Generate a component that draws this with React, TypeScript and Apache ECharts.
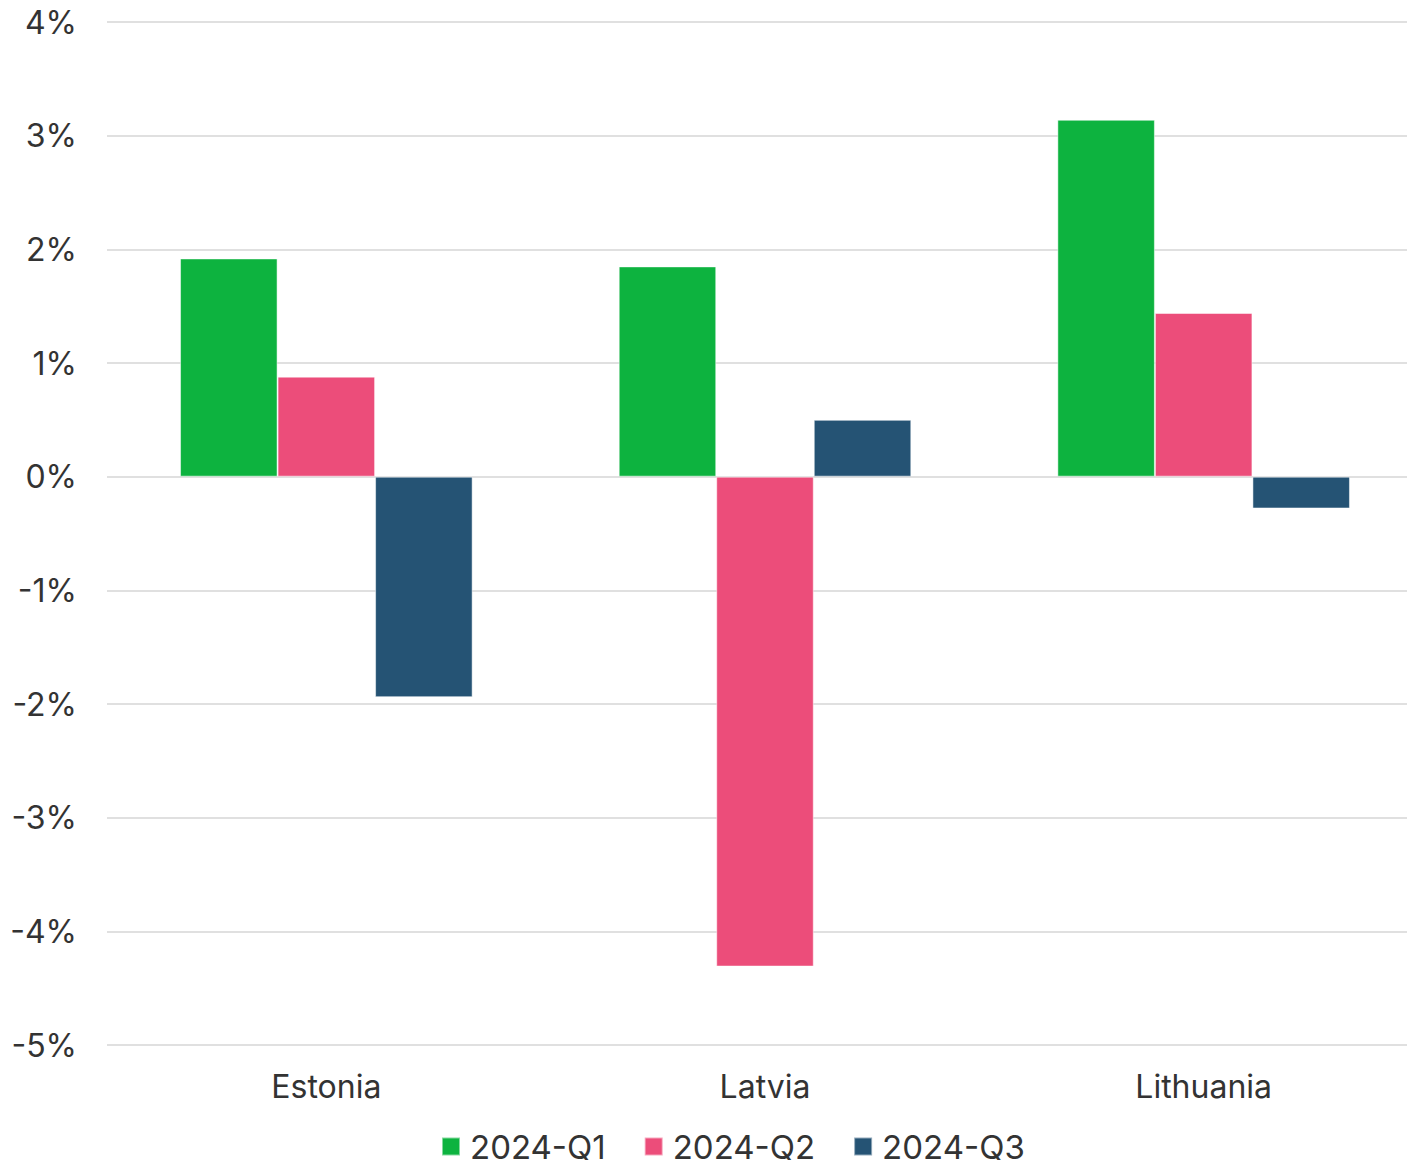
import React, { useEffect, useRef } from "react";
import * as echarts from "echarts";

const countries = ["Estonia", "Latvia", "Lithuania"];
const quarters = ["2024-Q1", "2024-Q2", "2024-Q3"];
const q1Values = [1.92, 1.85, 3.14];
const q2Values = [0.88, -4.31, 1.44];
const q3Values = [-1.94, 0.5, -0.28];
const seriesColors = ["#0db33f", "#ec4d7a", "#255374"];

const FONT = "Inter, 'Noto Sans', sans-serif";

export default function App() {
  const ref = useRef<HTMLDivElement>(null);

  useEffect(() => {
    if (!ref.current) return;
    const chart = echarts.init(ref.current, undefined, { renderer: "svg" });
    const values = [q1Values, q2Values, q3Values];
    chart.setOption({
      animation: false,
      textStyle: { fontFamily: FONT },
      grid: { left: 107, top: 22, right: 0, height: 1023 },
      legend: {
        top: 1130,
        left: 441,
        padding: 0,
        itemWidth: 18,
        itemHeight: 18,
        itemGap: 38,
        icon: "rect",
        textStyle: { fontSize: 33, color: "#333", fontFamily: FONT, padding: [0, 0, 0, 5] },
        data: quarters,
      },
      xAxis: {
        type: "category",
        data: countries,
        position: "bottom",
        axisLine: { show: false },
        axisTick: { show: false },
        axisLabel: { fontSize: 32, color: "#333", margin: 25, fontFamily: FONT },
      },
      yAxis: {
        type: "value",
        min: -5,
        max: 4,
        interval: 1,
        axisLine: { show: false },
        axisTick: { show: false },
        splitLine: { lineStyle: { color: "#e0e0e0", width: 2 } },
        axisLabel: {
          fontSize: 32,
          color: "#333",
          margin: 30,
          fontFamily: FONT,
          formatter: (v: number) => `${v}%`,
        },
      },
      series: quarters.map((name, i) => ({
        name,
        type: "bar",
        data: values[i],
        barGap: "0%",
        barCategoryGap: "33.3%",
        itemStyle: {
          color: seriesColors[i],
          borderColor: "rgba(255,255,255,0.5)",
          borderWidth: 1,
        },
      })),
    });
    return () => chart.dispose();
  }, []);

  return (
    <div style={{ position: "fixed", left: 0, top: 0, width: 1407, height: 1160, overflow: "hidden", background: "#fff" }}>
      <div ref={ref} style={{ width: 1423, height: 1160 }} />
    </div>
  );
}
